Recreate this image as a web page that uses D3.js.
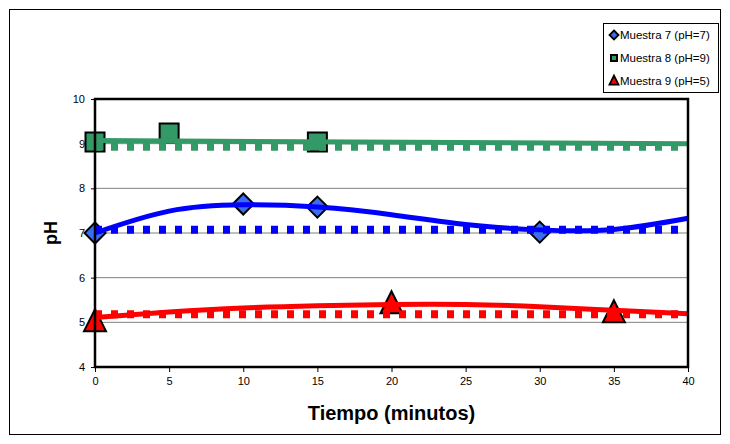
<!DOCTYPE html>
<html>
<head>
<meta charset="utf-8">
<script src="https://cdn.jsdelivr.net/npm/d3@7"></script>
<style>
  html, body { margin: 0; padding: 0; background: #fff; }
  svg { display: block; font-family: "Liberation Sans", Arial, sans-serif; }
</style>
</head>
<body>
<svg id="chart" width="730" height="444"></svg>
<script>
// Axis ticks
const ticksX = [0, 5, 10, 15, 20, 25, 30, 35, 40];
const ticksY = [4, 5, 6, 7, 8, 9, 10];

// Measured samples (minutes, pH)
const m7Tiempo = [0, 10, 15, 30];
const m7pH     = [7.0, 7.65, 7.58, 7.02];
const m8Tiempo = [0, 5, 15];
const m8pH     = [9.04, 9.24, 9.04];
const m9Tiempo = [0, 20, 35];
const m9pH     = [5.0, 5.40, 5.20];

// Trend curves, sampled every 5 minutes
const trendTiempo = [0, 5, 10, 15, 20, 25, 30, 35, 40];
const trend7 = [7.00, 7.49, 7.63, 7.58, 7.41, 7.19, 7.07, 7.08, 7.33];
const trend9 = [5.11, 5.23, 5.32, 5.37, 5.40, 5.40, 5.35, 5.27, 5.19];
const trend8Tiempo = [0, 40];
const trend8 = [9.07, 9.00];

// Mean levels (dotted)
const meanTiempo = [0, 40];
const mean7 = [7.07, 7.07];
const mean8 = [8.93, 8.93];
const mean9 = [5.18, 5.18];

const legendLabels = ["Muestra 7 (pH=7)", "Muestra 8 (pH=9)", "Muestra 9 (pH=5)"];

const svg = d3.select("#chart");
const W = 730, H = 444;
const plot = { left: 95, right: 688, top: 99, bottom: 367 };

const x = d3.scaleLinear().domain([0, 40]).range([plot.left, plot.right]);
const y = d3.scaleLinear().domain([4, 10]).range([plot.bottom, plot.top]);

// Outer frame
svg.append("rect")
  .attr("x", 9.5).attr("y", 9.5)
  .attr("width", W - 19).attr("height", H - 19)
  .attr("fill", "#fff").attr("stroke", "#000").attr("stroke-width", 1);

// Gridlines
svg.append("g").selectAll("line")
  .data(ticksY.filter(v => v > 4 && v < 10))
  .join("line")
  .attr("x1", plot.left).attr("x2", plot.right)
  .attr("y1", d => y(d)).attr("y2", d => y(d))
  .attr("stroke", "#808080").attr("stroke-width", 1);

// Axes
const yAxis = d3.axisLeft(y).tickValues(ticksY).tickSize(4).tickPadding(6).tickFormat(d3.format("d"));
const xAxis = d3.axisBottom(x).tickValues(ticksX).tickSize(5).tickPadding(5).tickFormat(d3.format("d"));

const gy = svg.append("g").attr("transform", `translate(${plot.left},0)`).call(yAxis);
const gx = svg.append("g").attr("transform", `translate(0,${plot.bottom})`).call(xAxis);
[gy, gx].forEach(g => {
  g.select(".domain").remove();
  g.selectAll(".tick line").attr("stroke", "#000").attr("stroke-width", 1);
  g.selectAll(".tick text").attr("fill", "#000").attr("font-size", 11)
    .attr("font-family", "Liberation Sans, Arial, sans-serif");
});

// Markers (drawn below the lines)
const diamond = s => `M0,${-s} L${s},0 L0,${s} L${-s},0 Z`;
const square = s => `M${-s},${-s} H${s} V${s} H${-s} Z`;
const triangle = s => `M0,${-s * 1.2} L${s},${s * 0.8} L${-s},${s * 0.8} Z`;

const markers = svg.append("g");
markers.selectAll(".m7").data(m7Tiempo).join("path")
  .attr("transform", (d, i) => `translate(${x(d)},${y(m7pH[i])})`)
  .attr("d", diamond(10.5)).attr("fill", "#3A6EF2").attr("stroke", "#000").attr("stroke-width", 2);
markers.selectAll(".m8").data(m8Tiempo).join("path")
  .attr("transform", (d, i) => `translate(${x(d)},${y(m8pH[i])})`)
  .attr("d", square(9.5)).attr("fill", "#339966").attr("stroke", "#000").attr("stroke-width", 2);
markers.selectAll(".m9").data(m9Tiempo).join("path")
  .attr("transform", (d, i) => `translate(${x(d)},${y(m9pH[i])})`)
  .attr("d", triangle(11)).attr("fill", "#FF0000").attr("stroke", "#000").attr("stroke-width", 2);

// Lines
const lineOf = (xs, ys, curve) => d3.line()
  .x((d, i) => x(xs[i])).y(d => y(d)).curve(curve)(ys);

const lines = svg.append("g").attr("fill", "none");
const dotted = (xs, ys, color) => lines.append("path")
  .attr("d", lineOf(xs, ys, d3.curveLinear))
  .attr("stroke", color).attr("stroke-width", 8).attr("stroke-dasharray", "7 9");
const solid = (xs, ys, color, curve) => lines.append("path")
  .attr("d", lineOf(xs, ys, curve))
  .attr("stroke", color).attr("stroke-width", 5).attr("stroke-linecap", "butt");

dotted(meanTiempo, mean8, "#339966");
dotted(meanTiempo, mean7, "#0000FF");
dotted(meanTiempo, mean9, "#FF0000");
solid(trend8Tiempo, trend8, "#339966", d3.curveLinear);
solid(trendTiempo, trend7, "#0000FF", d3.curveNatural);
solid(trendTiempo, trend9, "#FF0000", d3.curveNatural);

// Plot frame
svg.append("rect")
  .attr("x", plot.left).attr("y", plot.top)
  .attr("width", plot.right - plot.left).attr("height", plot.bottom - plot.top)
  .attr("fill", "none").attr("stroke", "#000").attr("stroke-width", 2.5);

// Axis titles
svg.append("text")
  .attr("x", x(20)).attr("y", 420)
  .attr("text-anchor", "middle").attr("font-size", 20).attr("font-weight", "bold")
  .text("Tiempo (minutos)");
svg.append("text")
  .attr("transform", `translate(57,${(plot.top + plot.bottom) / 2}) rotate(-90)`)
  .attr("text-anchor", "middle").attr("font-size", 18).attr("font-weight", "bold")
  .text("pH");

// Legend
const lg = svg.append("g");
lg.append("rect").attr("x", 603.5).attr("y", 23.5).attr("width", 115).attr("height", 69)
  .attr("fill", "#fff").attr("stroke", "#000").attr("stroke-width", 1);
const legendShapes = [
  { d: diamond(4.5), fill: "#3A6EF2", sw: 1.8 },
  { d: square(3), fill: "#339966", sw: 2 },
  { d: triangle(4.5), fill: "#FF0000", sw: 1.8 }
];
legendLabels.forEach((t, i) => {
  const cy = 35 + i * 23;
  lg.append("path").attr("transform", `translate(614,${cy})`)
    .attr("d", legendShapes[i].d).attr("fill", legendShapes[i].fill)
    .attr("stroke", "#000").attr("stroke-width", legendShapes[i].sw);
  lg.append("text").attr("x", 620).attr("y", cy + 4)
    .attr("font-size", 11.5).attr("fill", "#000").text(t);
});
</script>
</body>
</html>
